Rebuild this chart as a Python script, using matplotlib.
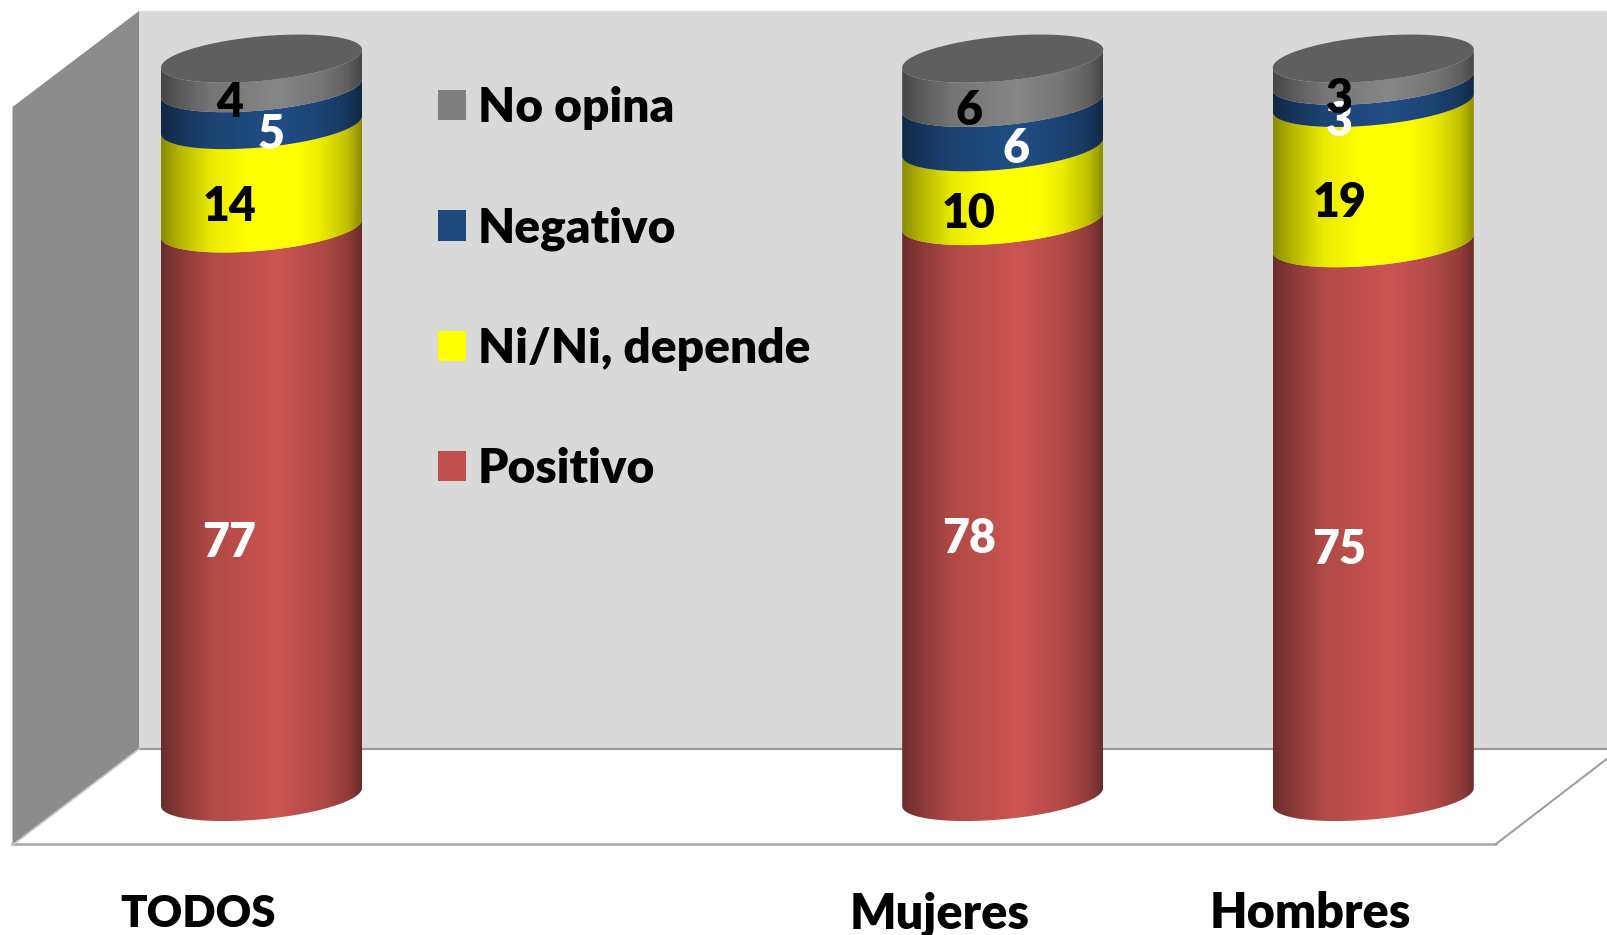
import numpy as np
import matplotlib
matplotlib.use("Agg")
import matplotlib.pyplot as plt
from matplotlib.patches import Polygon, Patch
from matplotlib.transforms import ScaledTranslation

plt.rcParams['font.family'] = ['Lato', 'DejaVu Sans']
plt.rcParams['font.weight'] = 'heavy'

# data (columna vacia entre TODOS y Mujeres, como en el original)
categories = ["TODOS", "", "Mujeres", "Hombres"]
positivo = [77, None, 78, 75]
ni_ni    = [14, None, 10, 19]
negativo = [5, None, 6, 3]
no_opina = [4, None, 6, 3]
series_names = ["Positivo", "Ni/Ni, depende", "Negativo", "No opina"]

colors = ["#C0504D", "#FFFF00", "#1F497D", "#7F7F7F"]
label_colors = ["white", "black", "white", "black"]
TOP_COLOR = "#5F5F5F"

W, H = 1608, 935
FS = 35
FS_LEG = 34.5
FS_NUM = 33.5
PX_PER_UNIT_X = 370.6
PX_PER_UNIT_Y = 7.384
ZERO_X, ZERO_Y, AXIS_BOTTOM = 261.5, 797, 844

fig = plt.figure(figsize=(W / 100, H / 100), dpi=100, facecolor="white")

# paredes del "3D", fondo en pixeles
bg = fig.add_axes([0, 0, 1, 1])
bg.set_xlim(0, W)
bg.set_ylim(H, 0)
bg.axis('off')
bg.add_patch(Polygon([(139, 11), (W, 11), (W, 749), (139, 749)], fc="#D9D9D9", ec="none"))
bg.add_patch(Polygon([(139, 11), (12.5, 107), (12.5, 845), (139, 749)], fc="#8C8C8C", ec="none"))
bg.plot([139, W], [749, 749], color="#9A9A9A", lw=1.6)
bg.plot([12, 1496], [844, 844], color="#A6A6A6", lw=1.8)
bg.plot([1496, W], [844, 758], color="#A0A0A0", lw=1.5)
bg.plot([12.5, 139], [845, 749], color="#C8C8C8", lw=1.2)

# ejes de datos: x = categoria, y = porcentaje
ax = fig.add_axes([0, (H - AXIS_BOTTOM) / H, 1, AXIS_BOTTOM / H])
ax.patch.set_alpha(0)
xlim = (-ZERO_X / PX_PER_UNIT_X, (W - ZERO_X) / PX_PER_UNIT_X)
ylim = ((ZERO_Y - AXIS_BOTTOM) / PX_PER_UNIT_Y, ZERO_Y / PX_PER_UNIT_Y)

half = 100.5 / PX_PER_UNIT_X
tilt = 9 / PX_PER_UNIT_Y
depth = 22.3 / PX_PER_UNIT_Y
t = np.linspace(0, np.pi, 80)

# sombreado horizontal del cilindro
frac = np.linspace(0, 1, 256)
shade = np.interp(frac, [0, 0.1, 0.25, 0.58, 0.8, 0.93, 1],
                  [0.55, 0.72, 0.92, 1.06, 0.92, 0.75, 0.55])


def front_arc(x0, v):
    return x0 + half * np.cos(t), v + tilt * np.cos(t) - depth * np.sin(t)


all_series = [positivo, ni_ni, negativo, no_opina]
x_pos = [i for i, c in enumerate(categories) if c]
for i in x_pos:
    bottom = 0
    for s, color in zip(all_series, colors):
        top = bottom + s[i]
        xb, yb = front_arc(i, bottom)
        xt, yt = front_arc(i, top)
        poly = Polygon(np.r_[np.c_[xb, yb], np.c_[xt, yt][::-1]], transform=ax.transData,
                       fc="none", ec="none")
        ax.add_patch(poly)
        rgb = np.array(matplotlib.colors.to_rgb(color))
        grad = np.clip(shade[None, :, None] * rgb, 0, 1)
        im = ax.imshow(grad, extent=(i - half, i + half, -20, 120), aspect='auto',
                       interpolation='bilinear', zorder=2)
        im.set_clip_path(poly)
        bottom = top
    # tapa superior
    tt = np.linspace(0, 2 * np.pi, 160)
    ax.add_patch(Polygon(np.c_[i + half * np.cos(tt), bottom + tilt * np.cos(tt) - depth * np.sin(tt)],
                         fc=TOP_COLOR, ec="none", zorder=3))

ax.set_xlim(xlim)
ax.set_ylim(ylim)

# etiquetas de valores, sobre la cara frontal
LABEL_DROP = 30 / PX_PER_UNIT_Y
label_dx = {0: [-32, -32, 10, -32], 2: [-34, -34, 13, -34], 3: [-34, -34, -34, -34]}
label_dy = {0: [0, 0, 2, 0], 2: [0, 0, 6, 0], 3: [0, 0, 0, 1]}  # retoques en px
for i in x_pos:
    bottom = 0
    for j, s in enumerate(all_series):
        ax.text(i + label_dx[i][j] / PX_PER_UNIT_X,
                bottom + s[i] / 2 - LABEL_DROP + label_dy[i][j] / PX_PER_UNIT_Y, str(s[i]),
                color=label_colors[j], fontsize=FS_NUM, fontweight='heavy',
                ha='center', va='center', zorder=5)
        bottom += s[i]

# eje x
ax.set_yticks([])
ax.set_xticks(range(len(categories)), categories, fontsize=FS, fontweight='heavy')
ax.tick_params(axis='x', length=0, pad=34)
shift = ScaledTranslation(-63 / 100, 0, fig.dpi_scale_trans)
for lab in ax.get_xticklabels():
    lab.set_transform(lab.get_transform() + shift)
todos = ax.get_xticklabels()[0]
todos.set_fontsize(31.5)
todos.set_transform(todos.get_transform() + ScaledTranslation(0, -3 / 100, fig.dpi_scale_trans))
for sp in ax.spines.values():
    sp.set_visible(False)

# leyenda
handles = [Patch(fc=colors[k], ec="none", label=series_names[k]) for k in [3, 2, 1, 0]]
ax.legend(handles=handles, loc='upper left', bbox_to_anchor=(438 / W, 1 - 86 / AXIS_BOTTOM),
          frameon=False, fontsize=FS_LEG, handlelength=0.58, handleheight=0.6,
          handletextpad=0.25, labelspacing=1.59, borderpad=0, borderaxespad=0)

plt.savefig("out.png", dpi=100)
plt.close()
